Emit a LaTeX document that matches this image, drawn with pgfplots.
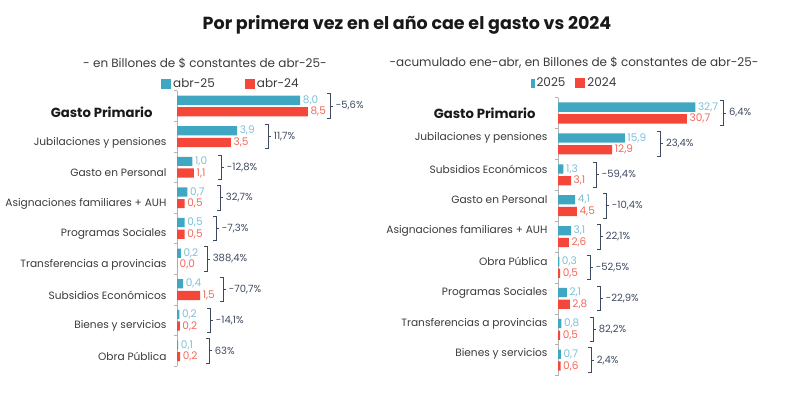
\documentclass[border=0pt]{standalone}
\usepackage{pgfplots}
\pgfplotsset{compat=1.18}
\usepackage{pgfplotstable}
\usepackage{fontspec}
\setmainfont{Poppins}

\definecolor{tealB}{HTML}{3FA7C2}
\definecolor{redB}{HTML}{F4473A}
\definecolor{tealL}{HTML}{7DBFD6}
\definecolor{redL}{HTML}{F2685A}
\definecolor{txt}{HTML}{3A3A3A}
\definecolor{pct}{HTML}{3E4A60}

\pgfplotstableread{
x y lab
8.0 -0.19 8,0
3.9 0.81 3,9
1.0 1.81 1,0
0.68 2.81 0,7
0.5 3.81 0,5
0.25 4.81 0,2
0.4 5.81 0,4
0.15 6.81 0,2
0.08 7.81 0,1
}\LA
\pgfplotstableread{
x y lab
8.5 0.19 8,5
3.5 1.19 3,5
1.1 2.19 1,1
0.5 3.19 0,5
0.5 4.19 0,5
0.0 5.19 0,0
1.5 6.19 1,5
0.18 7.19 0,2
0.2 8.19 0,2
}\LB
\pgfplotstableread{
x y lab
32.7 -0.19 32,7
15.9 0.81 15,9
1.3 1.81 1,3
4.1 2.81 4,1
3.1 3.81 3,1
0.3 4.81 0,3
2.1 5.81 2,1
0.8 6.81 0,8
0.7 7.81 0,7
}\RA
\pgfplotstableread{
x y lab
30.7 0.19 30,7
12.9 1.19 12,9
3.1 2.19 3,1
4.5 3.19 4,5
2.6 4.19 2,6
0.5 5.19 0,5
2.8 6.19 2,8
0.5 7.19 0,5
0.6 8.19 0,6
}\RB

\newcommand{\br}[3]{%
  \draw[pct, line width=0.8pt] (axis cs:#1,#2-0.4) -- ([xshift=3pt]axis cs:#1,#2-0.4) -- ([xshift=3pt]axis cs:#1,#2+0.4) -- (axis cs:#1,#2+0.4);
  \draw[pct, line width=0.8pt] ([xshift=3pt]axis cs:#1,#2) -- ([xshift=6pt]axis cs:#1,#2) node[right, inner sep=2.5pt, text=pct, font=\fontsize{10}{12}\selectfont] {#3};}

\pgfplotsset{
  mybars/.style={
    scale only axis, clip=false,
    xbar, bar width=0.3, bar shift=0pt,
    y dir=reverse,
    ymin=-0.5, ymax=8.5,
    axis x line=none, axis y line*=left,
    y axis line style={gray!60, line width=0.7pt},
    ytick style={draw=none},
    tick align=outside, major tick length=3pt,
    extra y ticks={-0.5,0.5,1.5,2.5,3.5,4.5,5.5,6.5,7.5,8.5},
    extra y tick labels={},
    extra y tick style={ytick style={draw=gray!60, line width=0.6pt}},
    yticklabel style={font=\fontsize{10.6}{12}\selectfont, text=txt, xshift=-4pt},
    point meta=explicit symbolic,
    nodes near coords,
    every node near coord/.append style={font=\fontsize{10.5}{12}\selectfont, inner sep=2.5pt, anchor=west},
    legend style={draw=none, fill=none, font=\fontsize{12}{14}\selectfont, text=txt, legend columns=2, anchor=center,
      /tikz/every even column/.append style={column sep=28pt}},
  },
  tealplot/.style={fill=tealB, draw=none,
    every node near coord/.append style={text=tealL},
    legend image code/.code={\fill[tealB] (0pt,-5pt) rectangle (10pt,5pt);}},
  redplot/.style={fill=redB, draw=none,
    every node near coord/.append style={text=redL},
    legend image code/.code={\fill[redB] (0pt,-5pt) rectangle (10pt,5pt);}},
}

\begin{document}
\begin{tikzpicture}
\path[use as bounding box] (0pt,0pt) rectangle (800pt,398pt);
\node[font=\fontsize{17.5}{20}\selectfont\bfseries, text=black!90] at (407pt,373pt) {Por primera vez en el año cae el gasto vs 2024};
\node[font=\fontsize{12}{14}\selectfont, text=txt] at (205pt,335pt) {- en Billones de \$ constantes de abr-25-};
\node[font=\fontsize{12}{14}\selectfont, text=txt] at (574pt,335pt) {-acumulado ene-abr, en Billones de \$ constantes de abr-25-};

\begin{axis}[mybars,
  at={(177pt,307.3pt)}, anchor=north west,
  width=215.6pt, height=275.4pt, xmin=0, xmax=14,
  ytick={0.19,1.19,2.19,3.19,4.19,5.19,6.19,7.19,8.19},
  yticklabels={{\fontsize{13.2}{15}\selectfont\bfseries\color{black!90}Gasto Primario\hspace*{14pt}},Jubilaciones y pensiones,Gasto en Personal,Asignaciones familiares + AUH,Programas Sociales,Transferencias a provincias,Subsidios Económicos,Bienes y servicios,Obra Pública},
  legend style={at={(axis description cs:0.25,1.024)}},
]
\addplot[tealplot] table[x=x, y=y, meta=lab] {\LA};
\addplot[redplot] table[x=x, y=y, meta=lab] {\LB};
\legend{abr-25,abr-24}
\br{9.74}{0}{-5,6\%}
\br{5.71}{1}{11,7\%}
\br{2.66}{2}{-12,8\%}
\br{2.6}{3}{32,7\%}
\br{2.34}{4}{-7,3\%}
\br{1.75}{5}{388,4\%}
\br{2.79}{6}{-70,7\%}
\br{1.95}{7}{-14,1\%}
\br{1.88}{8}{63\%}
\end{axis}

\begin{axis}[mybars,
  at={(558pt,300.45pt)}, anchor=north west,
  width=168pt, height=278.1pt, xmin=0, xmax=40,
  ytick={0,0.81,1.81,2.81,3.81,4.81,5.81,6.81,7.81},
  yticklabels={{\fontsize{13.2}{15}\selectfont\bfseries\color{black!90}Gasto Primario\hspace*{12pt}},Jubilaciones y pensiones,Subsidios Económicos,Gasto en Personal,Asignaciones familiares + AUH,Obra Pública,Programas Sociales,Transferencias a provincias,Bienes y servicios},
  legend style={at={(axis description cs:0.098,1.052)}, /tikz/every even column/.append style={column sep=8pt}},
]
\addplot[tealplot, legend image code/.code={\fill[tealB] (0pt,-4.5pt) rectangle (4pt,4.5pt);}] table[x=x, y=y, meta=lab] {\RA};
\addplot[redplot] table[x=x, y=y, meta=lab] {\RB};
\legend{2025,2024}
\br{38.6}{0}{6,4\%}
\br{23.6}{1}{23,4\%}
\br{8.33}{2}{-59,4\%}
\br{10.7}{3}{-10,4\%}
\br{9.29}{4}{22,1\%}
\br{6.9}{5}{-52,5\%}
\br{9.29}{6}{-22,9\%}
\br{7.6}{7}{82,2\%}
\br{7.14}{8}{2,4\%}
\end{axis}
\end{tikzpicture}
\end{document}
